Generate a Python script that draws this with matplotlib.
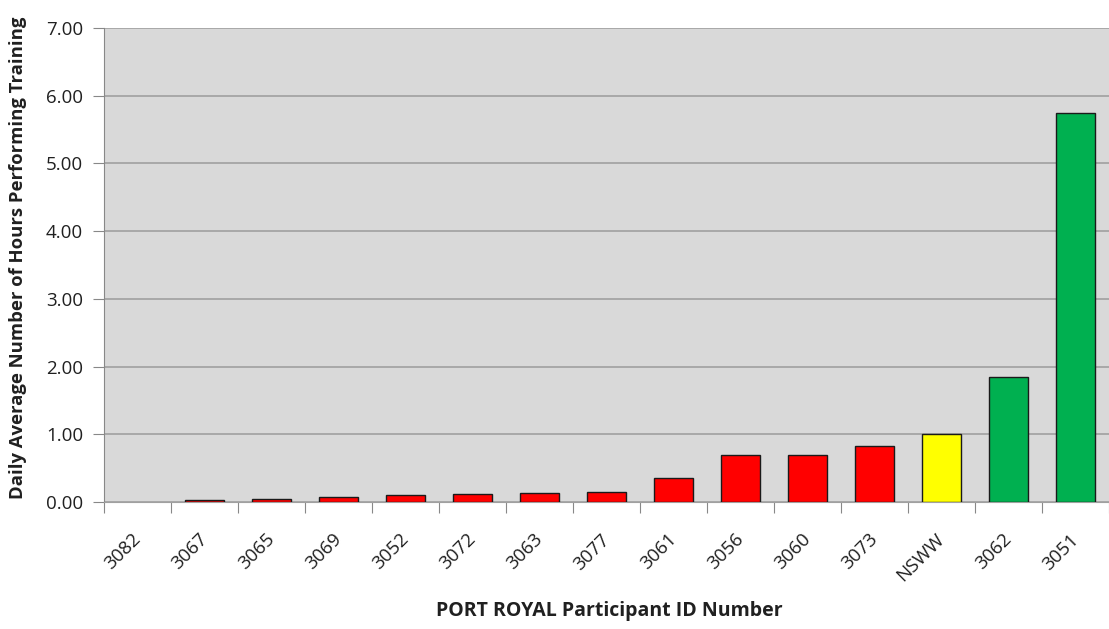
import matplotlib.pyplot as plt

# participant data, sorted ascending
participants = ['3082', '3067', '3065', '3069', '3052', '3072', '3063', '3077',
                '3061', '3056', '3060', '3073', 'NSWW', '3062', '3051']
hours = [0.0, 0.035, 0.05, 0.08, 0.10, 0.12, 0.14, 0.15,
         0.35, 0.69, 0.69, 0.83, 1.00, 1.84, 5.74]
bar_colors = ['#ff0000'] * 12 + ['#ffff00', '#00b050', '#00b050']

plt.rcParams['font.family'] = ['Open Sans', 'DejaVu Sans']

fig = plt.figure(figsize=(11.09, 6.29), dpi=100)
ax = fig.add_axes([0.0938, 0.2019, 0.9062, 0.7536])
ax.set_facecolor('#d9d9d9')

# no outline for empty bars (Excel draws nothing there)
edges = ['none' if h == 0 else '#1a1a1a' for h in hours]

x = range(len(participants))
ax.bar(x, hours, width=0.59, color=bar_colors, edgecolor=edges, linewidth=1.0, zorder=3)

ax.set_xlim(-0.5, len(participants) - 0.5)
ax.set_ylim(0, 7)
ax.set_yticks([0, 1, 2, 3, 4, 5, 6, 7])
ax.set_yticklabels(['%.2f' % v for v in range(8)])
ax.yaxis.grid(True, color='#a0a0a0', linewidth=1.2, zorder=0)
ax.set_axisbelow(True)

# category boundary ticks on x axis
ax.set_xticks([i - 0.5 for i in range(len(participants) + 1)], minor=False)
ax.set_xticklabels([])
ax.set_xticks(list(x), minor=True)
ax.set_xticklabels(participants, minor=True, rotation=45, ha='right', va='center',
                   rotation_mode='anchor', fontsize=13.5, color='#202020')
ax.tick_params(axis='x', which='major', length=8, color='#888888', direction='out')
ax.tick_params(axis='x', which='minor', length=0, pad=25)
ax.tick_params(axis='y', length=8, color='#888888', labelsize=13.5, labelcolor='#202020', pad=7)

for side in ['top', 'right']:
    ax.spines[side].set_visible(False)
ax.spines['left'].set_color('#888888')
ax.spines['bottom'].set_color('#a0a0a0')

fig.text(0.0165, 0.5906, 'Daily Average Number of Hours Performing Training', rotation=90,
         ha='center', va='center', fontsize=13.3, fontweight='bold', color='#202020')
fig.text(0.549, 0.0286, 'PORT ROYAL Participant ID Number', ha='center', va='center',
         fontsize=14, fontweight='bold', color='#202020')

fig.savefig('out.png', dpi=100)
